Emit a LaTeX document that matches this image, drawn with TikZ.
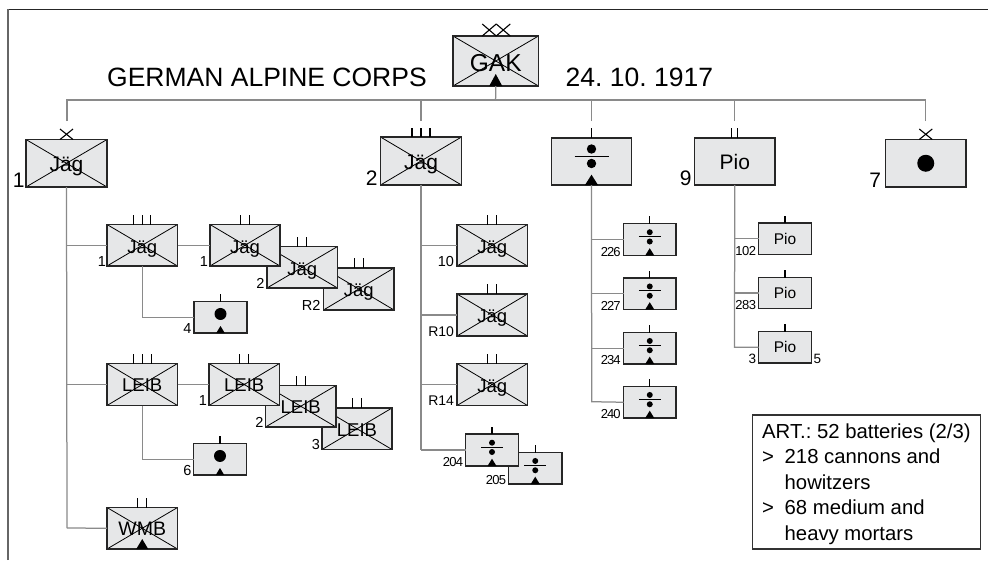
\documentclass[tikz,border=0pt]{standalone}
\usepackage{fontspec}
\setmainfont{Liberation Sans}
\frenchspacing
\newcommand{\fs}[1]{\fontsize{#1}{#1}\selectfont}
\newcommand{\dn}[2]{\raisebox{-#1pt}[\height][\depth]{#2}}
\newcommand{\jg}[1]{\dn{3.5}{\fs{#1}Jäg}}
\newcommand{\tight}[2]{{\fs{13}\addfontfeature{LetterSpace=#1}#2}}
\definecolor{boxfill}{HTML}{E6E7E8}
\definecolor{linkgray}{HTML}{8A8A8A}
\tikzset{
  unitbox/.style={draw=black!85,fill=boxfill,line width=1.1pt,inner sep=0pt,outer sep=0pt,align=center},
  crossed/.style={path picture={
    \draw[line width=0.8pt,black] (path picture bounding box.north west) -- (path picture bounding box.south east)
      (path picture bounding box.south west) -- (path picture bounding box.north east);}},
  link/.style={draw=linkgray,line width=1.25pt},
  echelon/.style={draw=black,line width=1.3pt},
  numlabel/.style={inner sep=0pt,outer sep=0pt,anchor=base east}
}
% name, x1, y1, x2, y2, options, text
\newcommand{\ubox}[7]{\node[unitbox,#6,minimum width={(#4-#2)*1pt},minimum height={(#5-#3)*1pt}] (#1) at ({(#2+#4)/2},{(#3+#5)/2}) {#7};}
% ticks: name, list of x offsets, length
\newcommand{\ticks}[3]{\foreach \dx in {#2} {\draw[echelon] ([xshift=\dx pt]#1.north) -- ++(0,-#3);}}
% X mark: name, half width, height
\newcommand{\xmark}[4][0]{\draw[echelon,line width=1.1pt] ([xshift=#1pt-#3pt]#2.north) -- ++(2*#3,-#4) ([xshift=#1pt+#3pt]#2.north) -- ++(-2*#3,-#4);}
% triangle: name, width, height
\newcommand{\tri}[3]{\fill[black] ([xshift=-#2/2*1pt]#1.south) -- ([xshift=#2/2*1pt]#1.south) -- ([yshift=#3 pt]#1.south) -- cycle;}
\newcommand{\bigdot}[4]{\fill[black] ([xshift=#2pt,yshift=#3pt]#1.center) circle[radius=#4pt];}
\newcommand{\artylarge}[1]{\bigdot{#1}{0}{12.5}{4.7}\bigdot{#1}{0}{-2}{4.7}\draw[black,line width=1pt] ([xshift=-17pt,yshift=5.5pt]#1.center) -- ([xshift=17pt,yshift=5.5pt]#1.center);\tri{#1}{13}{10.3}}
\newcommand{\artysmall}[1]{\bigdot{#1}{0}{7.3}{3}\bigdot{#1}{0}{-2}{3}\draw[black,line width=.9pt] ([xshift=-11pt,yshift=3pt]#1.center) -- ([xshift=11pt,yshift=3pt]#1.center);\tri{#1}{9}{7.3}}
\begin{document}
\begin{tikzpicture}[x=1pt,y=-1pt]
\useasboundingbox (0,0) rectangle (988,560);
\fill[white] (0,0) rectangle (988,560);
\draw[black!85,line width=1pt] (8,9.5) -- (988,9.5);
\draw[black!60,line width=1.6pt] (8,560) -- (8,9);

% title
\node[inner sep=0pt,anchor=base west] (title) at (107,86) {\fs{26.5}GERMAN ALPINE CORPS};
\node[inner sep=0pt,anchor=base west] (date) at (565.5,86) {\fs{26.5}24. 10. 1917};

% corps
\ubox{gak}{453}{36}{538.5}{86}{crossed}{\dn{2}{\fs{24.5}GAK}}
\tri{gak}{13}{12}
\xmark[-6.5]{gak}{7}{12}
\xmark[7.5]{gak}{7}{12}

% top level
\ubox{ja}{26}{139.5}{107}{187}{crossed}{\jg{21}}
\ubox{jb}{380.5}{137}{461.5}{185}{crossed}{\jg{21}}
\ubox{ar}{551.5}{138}{631.5}{185}{}{}
\ubox{pi}{694.5}{138}{775}{185}{}{\fs{21}Pio}
\ubox{gu}{885.5}{139.5}{966}{187}{}{}
\xmark{ja}{6.5}{10.5}
\ticks{jb}{-9,0,9}{9}
\ticks{ar}{0}{10}
\ticks{pi}{-3,3}{10}
\xmark{gu}{6.5}{10.5}
\artylarge{ar}
\bigdot{gu}{0}{0}{8.5}

\coordinate (dja) at (67,121);
\coordinate (djb) at (421,121);
\coordinate (dar) at (591.7,121);
\coordinate (dpi) at (734.5,121);
\coordinate (dgu) at (925.7,121);
\coordinate (hub) at (495.6,100);
\draw[link] (gak.south) -- (hub);
\draw[link] (dja) |- (hub);
\draw[link] (dgu) |- (hub);
\draw[link] (djb) -- (djb |- hub);
\draw[link] (dar) -- (dar |- hub);
\draw[link] (dpi) -- (dpi |- hub);

\node[numlabel] (lja) at (24.5,187.5) {\fs{21}1};
\node[numlabel] (ljb) at (377.5,185.5) {\fs{21}2};
\node[numlabel] (lpi) at (691.5,185.5) {\fs{21}9};
\node[numlabel] (lgu) at (881,187.5) {\fs{21}7};

% left column: Jäger regiment
\ubox{jr}{107}{224.5}{177.5}{266}{crossed}{\jg{18.5}}
\ticks{jr}{-8.5,0,8.5}{10}
\ubox{j3}{323.5}{268}{394}{310}{crossed}{\jg{18.5}}
\ticks{j3}{-4.5,4.5}{10}
\ubox{j2}{267}{246.5}{337.5}{288}{crossed}{\jg{18.5}}
\ticks{j2}{-4.5,4.5}{10}
\ubox{j1}{210}{224.5}{280}{266}{crossed}{\jg{18.5}}
\ticks{j1}{-4.5,4.5}{10}
\ubox{jg}{194}{301.5}{247}{333}{}{}
\ticks{jg}{0}{7.5}
\bigdot{jg}{0}{3.3}{6}
\tri{jg}{8.5}{7}
\draw[link] (jr.east) -- (j1.west);
\draw[link] (jr.south) |- (jg.west);
\node[numlabel] (ljr) at (106,266) {\fs{14.5}1};
\node[numlabel] (lj1) at (208,266) {\fs{14.5}1};
\node[numlabel] (lj2) at (264.5,288) {\fs{14.5}2};
\node[numlabel] (lj3) at (320.5,310) {\fs{14.5}R2};
\node[numlabel] (ljg) at (191.5,333) {\fs{14.5}4};

% left column: Leib regiment
\ubox{lr}{107}{363.5}{177.5}{405.5}{crossed}{\dn{1}{\fs{18.5}LEIB}}
\ticks{lr}{-9,0,9}{10}
\ubox{l3}{322}{408}{392}{449.5}{crossed}{\dn{1}{\fs{18.5}LEIB}}
\ticks{l3}{-4.5,4.5}{10}
\ubox{l2}{265.5}{385.5}{336}{427}{crossed}{\dn{1}{\fs{18.5}LEIB}}
\ticks{l2}{-4.5,4.5}{10}
\ubox{l1}{209}{363.5}{279.5}{405.5}{crossed}{\dn{1}{\fs{18.5}LEIB}}
\ticks{l1}{-4.5,4.5}{10}
\ubox{lg}{193.5}{443.5}{246.5}{475}{}{}
\ticks{lg}{0}{8}
\bigdot{lg}{0}{3.3}{6}
\tri{lg}{8.5}{7}
\draw[link] (lr.east) -- (l1.west);
\draw[link] (lr.south) |- (lg.west);
\node[numlabel] (ll1) at (207,405) {\fs{14.5}1};
\node[numlabel] (ll2) at (263.5,427) {\fs{14.5}2};
\node[numlabel] (ll3) at (320,449.5) {\fs{14.5}3};
\node[numlabel] (llg) at (191.5,475) {\fs{14.5}6};

% WMB
\ubox{wm}{107}{507.5}{177.5}{549}{crossed}{\dn{1}{\fs{19.5}WMB}}
\ticks{wm}{-4.5,4.5}{10}
\tri{wm}{12}{10}

\coordinate (jtrunk) at (67,528);
\draw[link] (ja.south) -- (jtrunk);
\draw[link] (jtrunk |- jr.west) -- (jr.west);
\draw[link] (jtrunk |- lr.west) -- (lr.west);
\draw[link] (jtrunk) -- (wm.west);

% second column
\ubox{k1}{457}{224.5}{527.5}{266}{crossed}{\jg{18.5}}
\ubox{k2}{457}{294}{527.5}{336}{crossed}{\jg{18.5}}
\ubox{k3}{457}{363.5}{527.5}{405.5}{crossed}{\jg{18.5}}
\ticks{k1}{-4.5,4.5}{10}
\ticks{k2}{-4.5,4.5}{10}
\ticks{k3}{-4.5,4.5}{10}
\ubox{m2}{508.5}{452.5}{562}{484}{}{}
\ticks{m2}{0}{7.5}
\artysmall{m2}
\ubox{m1}{465.5}{434}{518.5}{466}{}{}
\ticks{m1}{0}{7.5}
\artysmall{m1}
\coordinate (btrunk) at (421,450);
\draw[link] (jb.south) -- (btrunk);
\draw[link] (btrunk |- k1.west) -- (k1.west);
\draw[link] (btrunk |- k2.west) -- (k2.west);
\draw[link] (btrunk |- k3.west) -- (k3.west);
\draw[link] (btrunk) -- (m1.west);
\node[numlabel] (lk1) at (454,266) {\fs{14.5}10};
\node[numlabel] (lk2) at (454,336) {\fs{14}R10};
\node[numlabel] (lk3) at (454,405.5) {\fs{14}R14};
\node[numlabel] (lm1) at (463,466.5) {\tight{-6}{204}};
\node[numlabel] (lm2) at (506,484.5) {\tight{-6}{205}};

% artillery column
\ubox{a1}{623.5}{223.5}{676}{255.5}{}{}
\ubox{a2}{623.5}{278}{676}{309.5}{}{}
\ubox{a3}{623.5}{332.5}{676}{364}{}{}
\ubox{a4}{623.5}{386.5}{676}{418}{}{}
\foreach \n in {a1,a2,a3,a4} {\ticks{\n}{0}{7.5}\artysmall{\n}}
\coordinate (atrunk) at (591.7,401.7);
\draw[link] (ar.south) -- (atrunk) -- (a4.west);
\draw[link] (atrunk |- a1.west) -- (a1.west);
\draw[link] (atrunk |- a2.west) -- (a2.west);
\draw[link] (atrunk |- a3.west) -- (a3.west);
\node[numlabel] (la1) at (620.5,256) {\tight{-8}{226}};
\node[numlabel] (la2) at (620.5,310) {\tight{-8}{227}};
\node[numlabel] (la3) at (620.5,364.5) {\tight{-8}{234}};
\node[numlabel] (la4) at (620.5,418.5) {\tight{-8}{240}};

% pioneer column
\ubox{p1}{758.5}{223}{811.5}{254.5}{}{\fs{15.5}Pio}
\ubox{p2}{758.5}{277.5}{811.5}{308.5}{}{\fs{15.5}Pio}
\ubox{p3}{758.5}{331.5}{811.5}{363}{}{\fs{15.5}Pio}
\foreach \n in {p1,p2,p3} {\ticks{\n}{0}{7.5}}
\coordinate (ptrunk) at (734.5,347.2);
\draw[link] (pi.south) -- (ptrunk) -- (p3.west);
\draw[link] (ptrunk |- p1.west) -- (p1.west);
\draw[link] (ptrunk |- p2.west) -- (p2.west);
\node[numlabel] (lp1) at (756,255) {\tight{-4}{102}};
\node[numlabel] (lp2) at (756,309) {\tight{-4}{283}};
\node[numlabel] (lp3) at (756,363) {\fs{13.5}3};
\node[inner sep=0pt,anchor=base west] (lp3b) at (813.5,363) {\fs{13.5}5};

% legend
\node[draw=black!80,fill=white,line width=1.1pt,inner sep=0pt,outer sep=0pt,minimum width=228pt,minimum height=134pt,anchor=north west] (legend) at (752.5,415) {};
\node[inner sep=0pt,anchor=base west,align=left,font=\fontsize{20.3}{25.6}\selectfont] (legendtext) at (762,540.5) {%
  ART.: 52 batteries (2/3)\\
  \makebox[22.5pt][l]{>}218 cannons and\\
  \hspace*{22.5pt}howitzers\\
  \makebox[22.5pt][l]{>}68 medium and\\
  \hspace*{22.5pt}heavy mortars};
\end{tikzpicture}
\end{document}
